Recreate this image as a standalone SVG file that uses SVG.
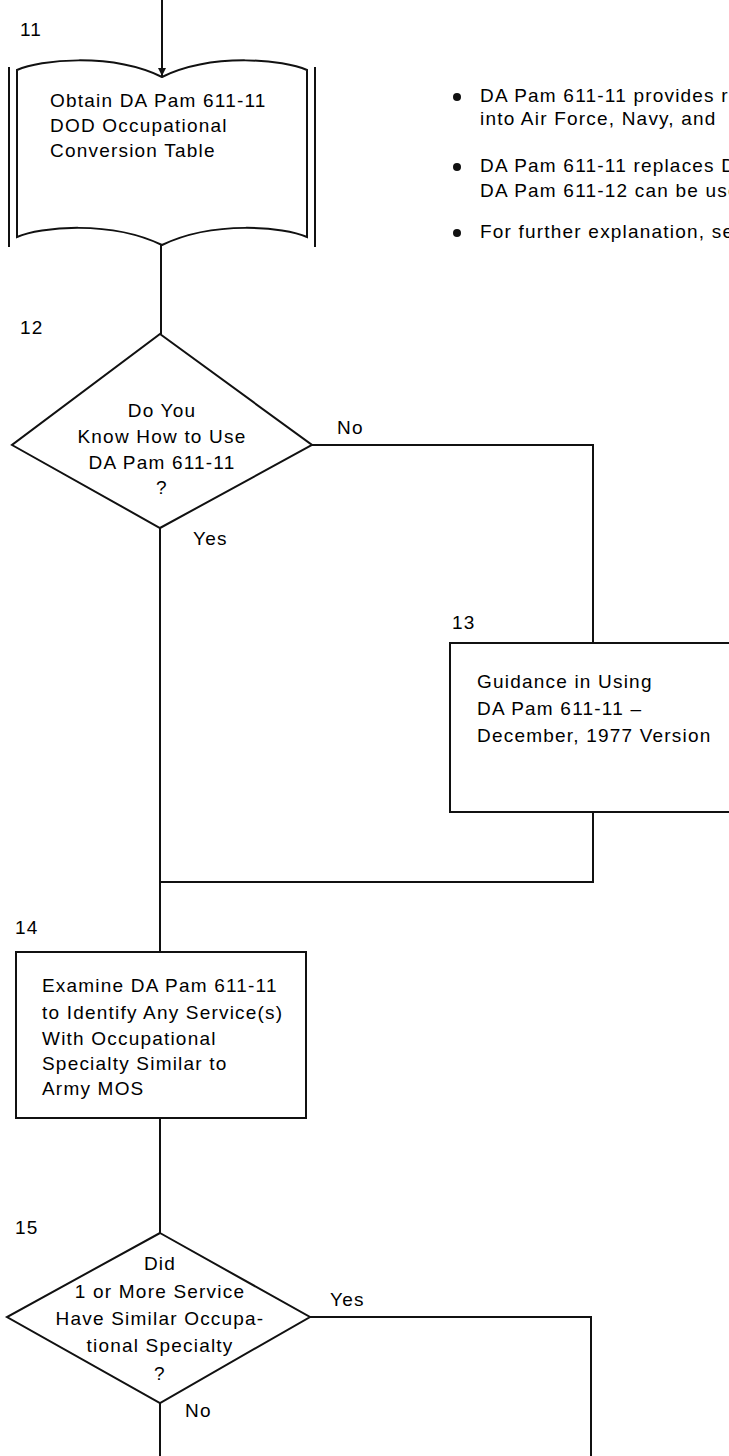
<svg xmlns="http://www.w3.org/2000/svg" width="729" height="1456" viewBox="0 0 729 1456">
<style>
text{font-family:"Liberation Sans",Arial,sans-serif;font-size:19px;fill:#000;letter-spacing:1.2px}
.c{text-anchor:middle}
.shape{fill:#fff;stroke:#111;stroke-width:2}
.line{fill:none;stroke:#111;stroke-width:2}
.dot{fill:#111}
</style>
<defs>
<marker id="arr" viewBox="0 0 10 10" refX="10" refY="5" markerWidth="10" markerHeight="8" orient="auto" markerUnits="userSpaceOnUse">
<path d="M0,0 L10,5 L0,10 z" fill="#111"/>
</marker>
</defs>
<g id="connectors">
<path class="line" d="M162,0 V76" marker-end="url(#arr)"/>
<path class="line" d="M161,245 V334"/>
<path class="line" d="M312,445 H593 V643"/>
<path class="line" d="M160,528 V952"/>
<path class="line" d="M593,812 V882 H160"/>
<path class="line" d="M160,1118 V1233"/>
<path class="line" d="M310,1317 H591 V1456"/>
<path class="line" d="M160,1403 V1456"/>
</g>
<g id="node11">
<text x="20" y="36">11</text>
<path class="line" d="M9,67 V247 M315,67 V247"/>
<path class="shape" d="M17,70 C40,60 110,52 162,77 C214,52 284,60 307,70 V237 C284,227 214,220 162,245 C110,220 40,227 17,237 Z"/>
<text x="50" y="107">Obtain DA Pam 611-11</text>
<text x="50" y="132">DOD Occupational</text>
<text x="50" y="157">Conversion Table</text>
</g>
<g id="notes">
<circle class="dot" cx="457" cy="97" r="4"/>
<text x="480" y="102">DA Pam 611-11 provides r</text>
<text x="480" y="125">into Air Force, Navy, and</text>
<circle class="dot" cx="457" cy="167" r="4"/>
<text x="480" y="172">DA Pam 611-11 replaces D</text>
<text x="480" y="197">DA Pam 611-12 can be use</text>
<circle class="dot" cx="457" cy="233" r="4"/>
<text x="480" y="238">For further explanation, se</text>
</g>
<g id="node12">
<text x="20" y="334">12</text>
<path class="shape" d="M160,334 L312,445 L160,528 L12,445 Z"/>
<text class="c" x="162" y="417">Do You</text>
<text class="c" x="162" y="443">Know How to Use</text>
<text class="c" x="162" y="469">DA Pam 611-11</text>
<text class="c" x="162" y="494">?</text>
<text x="337" y="434">No</text>
<text x="193" y="545">Yes</text>
</g>
<g id="node13">
<text x="452" y="629">13</text>
<rect class="shape" x="450" y="643" width="300" height="169"/>
<text x="477" y="688">Guidance in Using</text>
<text x="477" y="715">DA Pam 611-11 –</text>
<text x="477" y="742">December, 1977 Version</text>
</g>
<g id="node14">
<text x="15" y="934">14</text>
<rect class="shape" x="16" y="952" width="290" height="166"/>
<text x="42" y="992">Examine DA Pam 611-11</text>
<text x="42" y="1019">to Identify Any Service(s)</text>
<text x="42" y="1045">With Occupational</text>
<text x="42" y="1070">Specialty Similar to</text>
<text x="42" y="1095">Army MOS</text>
</g>
<g id="node15">
<text x="15" y="1234">15</text>
<path class="shape" d="M160,1233 L310,1317 L160,1403 L7,1317 Z"/>
<text class="c" x="160" y="1270">Did</text>
<text class="c" x="160" y="1298">1 or More Service</text>
<text class="c" x="160" y="1325">Have Similar Occupa-</text>
<text class="c" x="160" y="1352">tional Specialty</text>
<text class="c" x="160" y="1380">?</text>
<text x="330" y="1306">Yes</text>
<text x="185" y="1417">No</text>
</g>
</svg>
